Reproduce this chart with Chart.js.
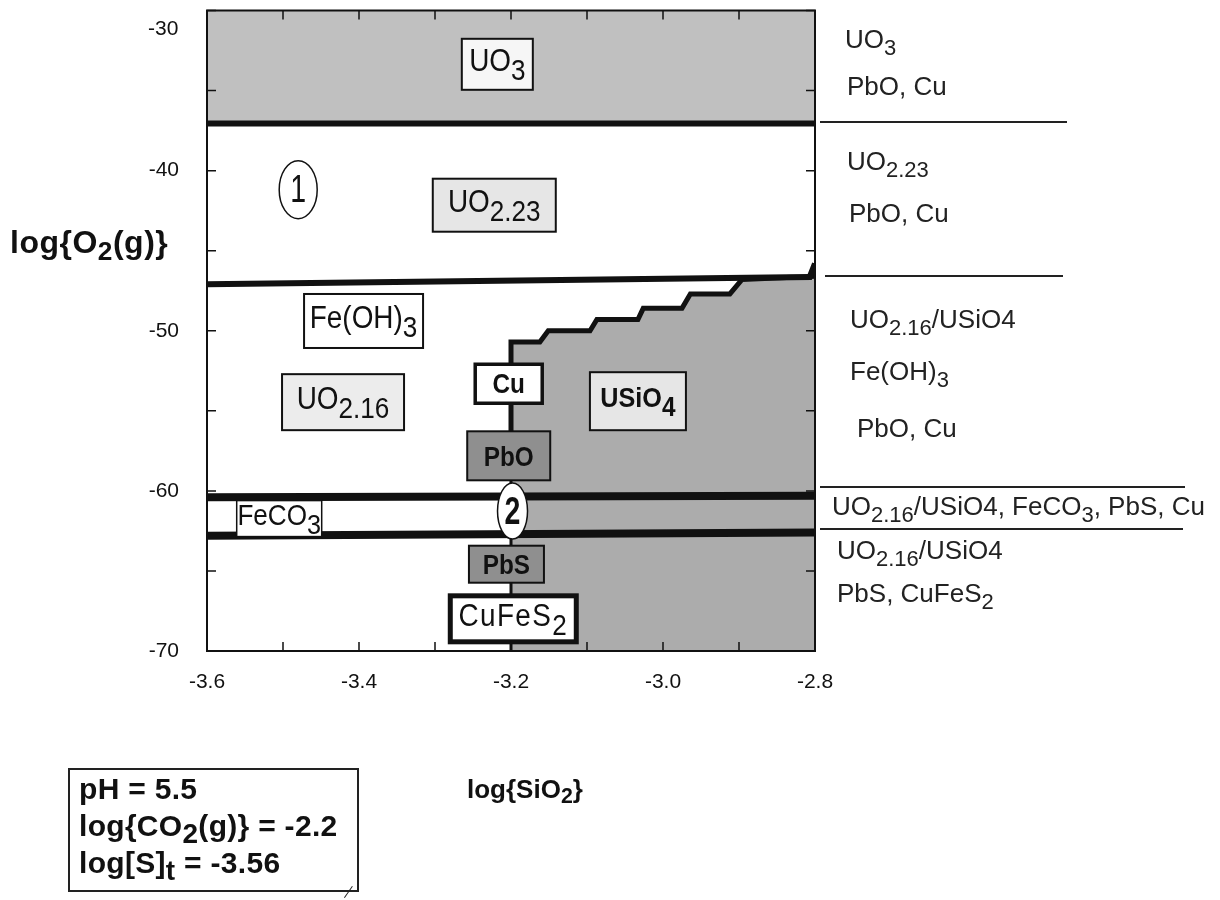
<!DOCTYPE html>
<html>
<head>
<meta charset="utf-8">
<script src="https://cdn.jsdelivr.net/npm/chart.js@4.4.1/dist/chart.umd.min.js"></script>
<style>
  body { margin: 0; background: #fff; }
  #wrap { position: relative; width: 1220px; height: 900px; overflow: hidden; }
  #chart { position: absolute; left: 0; top: -28px; }
  .note { position: absolute; font-family: 'Liberation Sans', Arial, sans-serif;
          font-size: 26px; line-height: 1; color: #222; white-space: nowrap; }
  .note .s { font-size: 22px; position: relative; top: 7px; }
  .rule { position: absolute; height: 0; border-top: 2px solid #222; }
  .tick { position: absolute; font-family: 'Liberation Sans', Arial, sans-serif; font-size: 21px;
          line-height: 1; color: #111; }
  .title { position: absolute; font-family: 'Liberation Sans', Arial, sans-serif; font-weight: bold;
           line-height: 1; color: #111; white-space: nowrap; }
  .title .s { font-size: 0.82em; position: relative; top: 0.25em; }
  #info { position: absolute; left: 68px; top: 768px; width: 287px; height: 120px;
          border: 2px solid #222; font-family: 'Liberation Sans', Arial, sans-serif; font-weight: bold;
          font-size: 30px; line-height: 1; color: #111; }
  #info div { position: absolute; left: 9px; white-space: nowrap; letter-spacing: 0.3px; }
  #info .s { font-size: 28px; position: relative; top: 7px; }
  #tail { position: absolute; left: 352px; top: 886px; width: 0; height: 14px;
          border-left: 1.5px solid #222; transform: rotate(35deg); transform-origin: top left; }
</style>
</head>
<body>
<div id="wrap">
  <canvas id="chart" width="1220" height="928"></canvas>

  <div class="tick" style="left:148px;top:17px">-30</div>

  <div class="note" style="left:845px;top:26px">UO<span class="s">3</span></div>
  <div class="note" style="left:847px;top:73px">PbO, Cu</div>
  <div class="rule" style="left:820px;top:121px;width:247px"></div>
  <div class="note" style="left:847px;top:148px">UO<span class="s">2.23</span></div>
  <div class="note" style="left:849px;top:200px">PbO, Cu</div>
  <div class="rule" style="left:825px;top:275px;width:238px"></div>
  <div class="note" style="left:850px;top:306px">UO<span class="s">2.16</span>/USiO4</div>
  <div class="note" style="left:850px;top:358px">Fe(OH)<span class="s">3</span></div>
  <div class="note" style="left:857px;top:415px">PbO, Cu</div>
  <div class="rule" style="left:820px;top:486px;width:365px"></div>
  <div class="note" style="left:832px;top:493px">UO<span class="s">2.16</span>/USiO4, FeCO<span class="s">3</span>, PbS, Cu</div>
  <div class="rule" style="left:820px;top:528px;width:363px"></div>
  <div class="note" style="left:837px;top:537px">UO<span class="s">2.16</span>/USiO4</div>
  <div class="note" style="left:837px;top:580px">PbS, CuFeS<span class="s">2</span></div>

  <div class="title" style="left:10px;top:226px;font-size:32px;letter-spacing:0.5px">log{O<span class="s">2</span>(g)}</div>
  <div class="title" style="left:467px;top:776px;font-size:26px">log{SiO<span class="s">2</span>}</div>

  <div id="info">
    <div style="top:4px">pH = 5.5</div>
    <div style="top:41px">log{CO<span class="s">2</span>(g)} = -2.2</div>
    <div style="top:78px">log[S]<span class="s">t</span> = -3.56</div>
  </div>
  <div id="tail"></div>
</div>

<script>
const FONT = "'Liberation Sans', Arial, sans-serif";

// axis ticks
const xTickValues = [-3.6, -3.5, -3.4, -3.3, -3.2, -3.1, -3.0, -2.9, -2.8];
const xTickLabels = [-3.6, -3.4, -3.2, -3.0, -2.8];
const yTickValues = [-70, -65, -60, -55, -50, -45, -40, -35, -30];
const yTickLabels = [-70, -60, -50, -40];

// UO3 / UO2.23 boundary
const uo3LineX = [-3.6, -2.8];
const uo3LineY = [-37.05, -37.05];

// UO2.23 / lower field boundary
const oxLineX = [-3.6, -2.807, -2.8];
const oxLineY = [-47.1, -46.65, -45.8];

// USiO4 field edge (stepped)
const usio4X = [-3.2, -3.2, -3.162, -3.151, -3.096, -3.087, -3.033, -3.026, -2.975, -2.964, -2.912, -2.896, -2.8];
const usio4Y = [-58.5, -50.7, -50.7, -50.0, -50.0, -49.3, -49.3, -48.6, -48.6, -47.7, -47.7, -46.8, -46.6];

// lower part of the x = -3.2 edge
const siEdgeX = [-3.2, -3.2];
const siEdgeY = [-70, -58.5];

// FeCO3 band
const feTopX = [-3.6, -2.8];
const feTopY = [-60.4, -60.3];
const feBotX = [-3.6, -2.8];
const feBotY = [-62.8, -62.6];

const pts = (xs, ys) => xs.map((x, i) => ({ x: x, y: ys[i] }));

// field labels, placed in data coordinates
const boxes = [
  { parts: [['UO'], ['3', 1]], x: -3.218, y: -33.36, w: 71, h: 51, fill: '#f6f6f6', lw: 2 },
  { parts: [['UO'], ['2.23', 1]], x: -3.222, y: -42.16, w: 123, h: 53, fill: '#e6e6e6', lw: 2 },
  { parts: [['Fe(OH)'], ['3', 1]], x: -3.394, y: -49.39, w: 119, h: 54, fill: '#ffffff', lw: 2 },
  { parts: [['UO'], ['2.16', 1]], x: -3.421, y: -54.46, w: 122, h: 56, fill: '#ececec', lw: 2 },
  { parts: [['Cu']], x: -3.203, y: -53.31, w: 67, h: 39, fill: '#ffffff', lw: 3.5, bold: true, size: 27 },
  { parts: [['USiO'], ['4', 1]], x: -3.033, y: -54.40, w: 96, h: 58, fill: '#e6e6e6', lw: 2, bold: true, size: 28 },
  { parts: [['PbO']], x: -3.203, y: -57.81, w: 83, h: 49, fill: '#8f8f8f', lw: 2, bold: true, size: 27 },
  { parts: [['FeCO'], ['3', 1]], x: -3.505, y: -61.73, w: 85, h: 36, fill: '#ffffff', lw: 1.5, size: 29 },
  { parts: [['PbS']], x: -3.206, y: -64.58, w: 75, h: 37, fill: '#8f8f8f', lw: 2, bold: true, size: 27 },
  { parts: [['CuFeS'], ['2', 1]], x: -3.197, y: -67.99, w: 126, h: 46, fill: '#ffffff', lw: 5, spacing: 1.5 }
];
const circles = [
  { text: '1', x: -3.480, y: -41.19, rx: 19, ry: 29, size: 38, bold: false },
  { text: '2', x: -3.198, y: -61.26, rx: 15, ry: 28, size: 38, bold: true }
];

// box text is a little taller than it is wide in the original
const SQUEEZE = 0.9;

function drawParts(ctx, b, cx, cy) {
  const size = b.size || 31;
  const wt = b.bold ? 'bold ' : '';
  const main = wt + size + 'px ' + FONT;
  const sub = wt + Math.round(size * 0.95) + 'px ' + FONT;
  const gap = b.spacing || 0;
  let total = 0;
  const widths = b.parts.map(p => {
    ctx.font = p[1] ? sub : main;
    const w = ctx.measureText(p[0]).width + gap * p[0].length;
    total += w;
    return w;
  });
  const hasSub = b.parts.some(p => p[1]);
  const base = cy + size * 0.36 - (hasSub ? size * 0.14 : 0);
  ctx.save();
  ctx.translate(cx, 0);
  ctx.scale(SQUEEZE, 1);
  let x = -total / 2;
  ctx.textBaseline = 'alphabetic';
  ctx.textAlign = 'left';
  b.parts.forEach((p, i) => {
    ctx.font = p[1] ? sub : main;
    let xx = x;
    for (const ch of p[0]) {
      ctx.fillText(ch, xx, base + (p[1] ? size * 0.3 : 0));
      xx += ctx.measureText(ch).width + gap;
    }
    x += widths[i];
  });
  ctx.restore();
}

const framePlugin = {
  id: 'frame',
  afterDatasetsDraw(chart) {
    const { ctx, chartArea: a, scales: { x, y } } = chart;
    ctx.save();
    ctx.strokeStyle = '#111';
    ctx.lineWidth = 1.5;
    ctx.beginPath();
    x.ticks.forEach(t => {
      const px = x.getPixelForValue(t.value);
      ctx.moveTo(px, a.bottom); ctx.lineTo(px, a.bottom - 9);
      ctx.moveTo(px, a.top); ctx.lineTo(px, a.top + 9);
    });
    y.ticks.forEach(t => {
      const py = y.getPixelForValue(t.value);
      ctx.moveTo(a.left, py); ctx.lineTo(a.left + 9, py);
      ctx.moveTo(a.right, py); ctx.lineTo(a.right - 9, py);
    });
    ctx.stroke();
    ctx.lineWidth = 2;
    ctx.strokeRect(a.left, a.top, a.right - a.left, a.bottom - a.top);

    boxes.forEach(b => {
      const cx = x.getPixelForValue(b.x), cy = y.getPixelForValue(b.y);
      ctx.fillStyle = b.fill;
      ctx.fillRect(cx - b.w / 2, cy - b.h / 2, b.w, b.h);
      ctx.lineWidth = b.lw;
      ctx.strokeStyle = '#111';
      ctx.strokeRect(cx - b.w / 2, cy - b.h / 2, b.w, b.h);
      ctx.fillStyle = '#111';
      drawParts(ctx, b, cx, cy);
    });
    circles.forEach(c => {
      const cx = x.getPixelForValue(c.x), cy = y.getPixelForValue(c.y);
      ctx.beginPath();
      ctx.ellipse(cx, cy, c.rx, c.ry, 0, 0, Math.PI * 2);
      ctx.fillStyle = '#fff';
      ctx.fill();
      ctx.lineWidth = 1.5;
      ctx.strokeStyle = '#111';
      ctx.stroke();
      ctx.fillStyle = '#111';
      ctx.save();
      ctx.translate(cx, cy + 2);
      ctx.scale(0.75, 1);
      ctx.font = (c.bold ? 'bold ' : '') + c.size + 'px ' + FONT;
      ctx.textAlign = 'center';
      ctx.textBaseline = 'middle';
      ctx.fillText(c.text, 0, 0);
      ctx.restore();
    });
    ctx.restore();
  }
};

const tickFont = { family: FONT, size: 21, lineHeight: 1 };

new Chart(document.getElementById('chart'), {
  type: 'line',
  data: {
    datasets: [
      { data: pts(uo3LineX, uo3LineY), borderColor: '#111', borderWidth: 6, fill: 'end', backgroundColor: '#c0c0c0', order: 4 },
      { data: pts(usio4X, usio4Y), borderColor: '#111', borderWidth: 5, fill: 'start', backgroundColor: '#acacac', order: 5 },
      { data: pts(siEdgeX, siEdgeY), borderColor: '#111', borderWidth: 3, fill: false, order: 2 },
      { data: pts(oxLineX, oxLineY), borderColor: '#111', borderWidth: 6, fill: false, order: 1 },
      { data: pts(feTopX, feTopY), borderColor: '#111', borderWidth: 8, fill: false, order: 1 },
      { data: pts(feBotX, feBotY), borderColor: '#111', borderWidth: 8, fill: false, order: 1 }
    ]
  },
  options: {
    responsive: false,
    animation: false,
    devicePixelRatio: 1,
    layout: { padding: { left: 0, top: 0, right: 405, bottom: 0 } },
    elements: { point: { radius: 0 }, line: { tension: 0, borderJoinStyle: 'miter', borderCapStyle: 'butt' } },
    plugins: { legend: { display: false }, tooltip: { enabled: false } },
    scales: {
      x: {
        type: 'linear', min: -3.6, max: -2.8,
        grid: { display: false, drawTicks: false, tickLength: 0 },
        border: { display: false },
        afterBuildTicks: s => { s.ticks = xTickValues.map(v => ({ value: v })); },
        afterFit: s => { s.height = 249; },
        ticks: {
          padding: 21, font: tickFont, color: '#111', maxRotation: 0, autoSkip: false,
          callback: v => xTickLabels.includes(v) ? v.toFixed(1) : ''
        }
      },
      y: {
        type: 'linear', min: -70, max: -30,
        grid: { display: false, drawTicks: false, tickLength: 0 },
        border: { display: false },
        afterBuildTicks: s => { s.ticks = yTickValues.map(v => ({ value: v })); },
        afterFit: s => { s.width = 207; },
        ticks: {
          padding: 28, font: tickFont, color: '#111', autoSkip: false,
          callback: v => yTickLabels.includes(v) ? String(v) : ''
        }
      }
    }
  },
  plugins: [framePlugin]
});
</script>
</body>
</html>
